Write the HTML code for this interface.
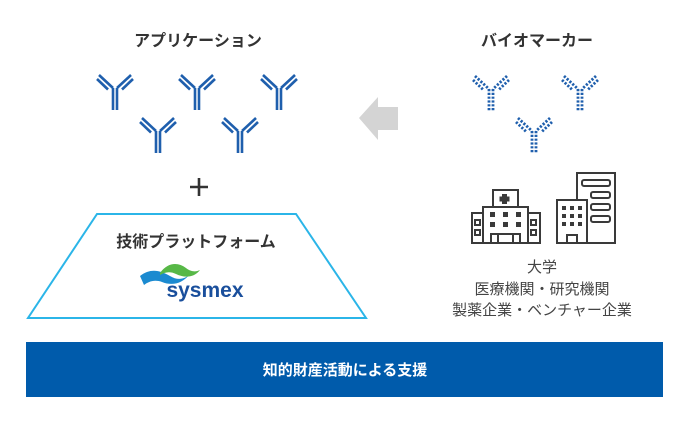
<!DOCTYPE html>
<html><head><meta charset="utf-8"><style>
html,body{margin:0;padding:0;background:#fff;}
body{width:690px;height:421px;overflow:hidden;font-family:"Liberation Sans","Noto Sans CJK JP",sans-serif;}
</style></head><body>
<svg width="690" height="421" viewBox="0 0 690 421" xmlns="http://www.w3.org/2000/svg" font-family="Liberation Sans, Noto Sans CJK JP, sans-serif">
<defs>
<g id="ab">
<line x1="16" y1="13" x2="16" y2="35"/><line x1="20" y1="13" x2="20" y2="35"/>
<line x1="2" y1="0" x2="16" y2="13"/><line x1="0" y1="4" x2="11" y2="14.5"/>
<line x1="34" y1="0" x2="20" y2="13"/><line x1="36" y1="4" x2="25" y2="14.5"/>
</g>
</defs>
<text x="198" y="46" text-anchor="middle" font-size="16" font-weight="bold" fill="#333">アプリケーション</text>
<text x="537" y="46" text-anchor="middle" font-size="16" font-weight="bold" fill="#333">バイオマーカー</text>
<g stroke="#1f5fad" stroke-width="2.6" fill="none">
<use href="#ab" x="97" y="75"/><use href="#ab" x="179" y="75"/><use href="#ab" x="261" y="75"/>
<use href="#ab" x="140" y="118"/><use href="#ab" x="222" y="118"/>
</g>
<g stroke="#1f5fad" stroke-width="2.8" fill="none" stroke-dasharray="2.2 1.6">
<use href="#ab" x="473" y="76"/><use href="#ab" x="562" y="76"/><use href="#ab" x="516" y="118"/>
</g>
<polygon points="359,118 378,97 378,107 398,107 398,130 378,130 378,140" fill="#d4d4d4"/>
<g stroke="#333" stroke-width="2.6"><line x1="190" y1="187" x2="208" y2="187"/><line x1="199" y1="178" x2="199" y2="196"/></g>
<polygon points="97,214 296,214 366,318 28,318" fill="none" stroke="#2bb5e8" stroke-width="2"/>
<text x="196" y="247" text-anchor="middle" font-size="16" font-weight="bold" fill="#333">技術プラットフォーム</text>
<path d="M140,276 C150,268 160,270 170,276 C178,281 185,279 190,274 C182,284 172,286 162,282 C154,279 148,282 144,285 Z" fill="#1b8ad0"/>
<path d="M160,273 C168,262 178,262 186,268 C191,272 196,272 200,270 C194,278 184,278 176,274 C170,271 165,272 160,275 Z" fill="#57b847"/>
<text x="205" y="297" text-anchor="middle" font-size="21" font-weight="bold" fill="#1a4f9c">sysmex</text>
<g stroke="#3a3a3a" stroke-width="2" fill="none">
<rect x="483" y="207" width="45" height="36"/>
<rect x="493" y="190" width="25" height="17"/>
<rect x="472" y="213" width="11" height="30"/>
<rect x="528" y="213" width="12" height="30"/>
<path d="M491,243 V234 H520 V243 M498,234 V243 M513,234 V243"/>
<rect x="475" y="220" width="5" height="5"/><rect x="475" y="230" width="5" height="5"/>
<rect x="531" y="220" width="5" height="5"/><rect x="531" y="230" width="5" height="5"/>
<rect x="577" y="173" width="38" height="70"/>
<rect x="557" y="200" width="30" height="43" fill="#fff"/>
<path d="M567,243 V235 H577 V243"/>
<rect x="582" y="180" width="28" height="6" rx="2"/><rect x="591" y="192" width="19" height="6" rx="2"/><rect x="591" y="204" width="19" height="6" rx="2"/><rect x="591" y="216" width="19" height="6" rx="2"/>
</g>
<g fill="#3a3a3a">
<rect x="502" y="194" width="5" height="10"/><rect x="499.5" y="196.5" width="10" height="5"/>
<rect x="490" y="212" width="5" height="5"/><rect x="503" y="212" width="5" height="5"/><rect x="516" y="212" width="5" height="5"/>
<rect x="490" y="222" width="5" height="5"/><rect x="503" y="222" width="5" height="5"/><rect x="516" y="222" width="5" height="5"/>
<rect x="562" y="206" width="4" height="4"/><rect x="570" y="206" width="4" height="4"/><rect x="578" y="206" width="4" height="4"/>
<rect x="562" y="214" width="4" height="4"/><rect x="570" y="214" width="4" height="4"/><rect x="578" y="214" width="4" height="4"/>
<rect x="562" y="222" width="4" height="4"/><rect x="570" y="222" width="4" height="4"/><rect x="578" y="222" width="4" height="4"/>
</g>
<g font-size="15" fill="#444" text-anchor="middle">
<text x="542" y="272">大学</text>
<text x="542" y="294">医療機関・研究機関</text>
<text x="542" y="315">製薬企業・ベンチャー企業</text>
</g>
<rect x="26" y="342" width="637" height="55" fill="#005bab"/>
<text x="345" y="375" text-anchor="middle" font-size="15" font-weight="bold" fill="#fff">知的財産活動による支援</text>
</svg>
</body></html>
